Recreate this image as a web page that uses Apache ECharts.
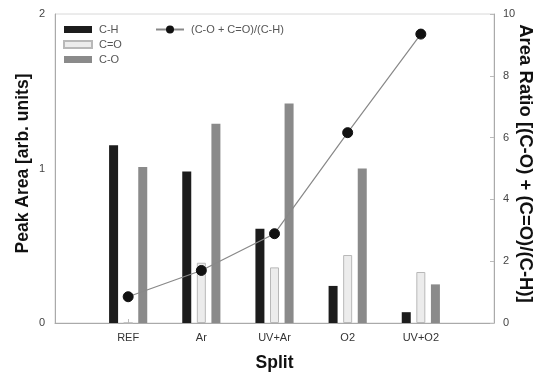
<!DOCTYPE html>
<html>
<head>
<meta charset="utf-8">
<script src="https://cdn.jsdelivr.net/npm/echarts@6/dist/echarts.min.js"></script>
<style>html,body{margin:0;padding:0;background:#fff}#c{width:546px;height:377px}</style>
</head>
<body>
<div id="c"></div>
<script>
var categories = ['REF', 'Ar', 'UV+Ar', 'O2', 'UV+O2'];
var cH = [1.15, 0.98, 0.61, 0.24, 0.07];
var cEqO = [0, 0.39, 0.36, 0.44, 0.33];
var cO = [1.01, 1.29, 1.42, 1.00, 0.25];
var ratio = [0.85, 1.70, 2.89, 6.16, 9.35];
var leftTicks = [0, 1, 2];
var rightTicks = [0, 2, 4, 6, 8, 10];

function pad(a) { return [null].concat(a, [null]); }
var xCats = [''].concat(categories, ['']);

var font = 'Liberation Sans, Arial, sans-serif';
var chart = echarts.init(document.getElementById('c'), null, {renderer: 'canvas'});
chart.setOption({
  animation: false,
  backgroundColor: '#fff',
  textStyle: {fontFamily: font},
  grid: {left: 55, right: 52, top: 14, bottom: 54, show: true, borderColor: '#d8d8d8', borderWidth: 1,
    containLabel: false, outerBoundsMode: 'none'},
  legend: [
    {
      data: [{name: 'C-H', icon: 'rect'}, {name: 'C=O', icon: 'rect'}, {name: 'C-O', icon: 'rect'}],
      orient: 'vertical', left: 63, top: 24, padding: 0,
      itemWidth: 28, itemHeight: 7, itemGap: 4,
      textStyle: {fontSize: 11, color: '#555', fontFamily: font, padding: [0, 0, 0, 2]}
    },
    {
      data: ['(C-O + C=O)/(C-H)'], left: 155, top: 24, padding: 0,
      itemWidth: 28, itemHeight: 10,
      textStyle: {fontSize: 11, color: '#555', fontFamily: font, padding: [0, 0, 0, 2]}
    }
  ],
  xAxis: {
    type: 'category', data: xCats, boundaryGap: false,
    name: 'Split', nameLocation: 'middle', nameGap: 31, nameMoveOverlap: false,
    nameTextStyle: {fontSize: 17.5, fontWeight: 'bold', color: '#111', fontFamily: font},
    axisLine: {lineStyle: {color: '#aaa'}},
    axisTick: {show: true, inside: true, length: 4, lineStyle: {color: '#bbb'},
      interval: function (i) { return i > 0 && i < xCats.length - 1; }},
    axisLabel: {fontSize: 11, color: '#333', margin: 9, interval: 0},
    splitLine: {show: false}
  },
  yAxis: [
    {
      type: 'value', min: 0, max: 2, interval: 1,
      name: 'Peak Area [arb. units]', nameLocation: 'middle', nameGap: 23, nameMoveOverlap: false,
      nameTextStyle: {fontSize: 17.5, fontWeight: 'bold', color: '#111', fontFamily: font, padding: [0, 0, 0, 10]},
      axisLine: {show: true, lineStyle: {color: '#aaa'}},
      axisTick: {show: false},
      axisLabel: {fontSize: 11, color: '#444', margin: 10,
        formatter: function (v) { return leftTicks.indexOf(v) >= 0 ? String(v) : ''; }},
      splitLine: {show: false}
    },
    {
      type: 'value', min: 0, max: 10, interval: 2, position: 'right',
      name: 'Area Ratio [(C-O) + (C=O)/(C-H)]', nameLocation: 'middle', nameGap: 22, nameRotate: -90, nameMoveOverlap: false,
      nameTextStyle: {fontSize: 18.5, fontWeight: 'bold', color: '#111', fontFamily: font, padding: [0, 10, 0, 0]},
      axisLine: {show: true, lineStyle: {color: '#aaa'}},
      axisTick: {show: true, inside: true, length: 4, lineStyle: {color: '#bbb'}},
      axisLabel: {fontSize: 11, color: '#444', margin: 9,
        formatter: function (v) { return rightTicks.indexOf(v) >= 0 ? String(v) : ''; }},
      splitLine: {show: false}
    }
  ],
  series: [
    {name: 'C-H', type: 'bar', data: pad(cH), barWidth: 9, barGap: '62%',
      itemStyle: {color: '#1c1c1c'}},
    {name: 'C=O', type: 'bar', data: pad(cEqO), barWidth: 9, barGap: '62%',
      itemStyle: {color: '#ececec', borderColor: '#b8b8b8', borderWidth: 1}},
    {name: 'C-O', type: 'bar', data: pad(cO), barWidth: 9, barGap: '62%',
      itemStyle: {color: '#8a8a8a'}},
    {name: '(C-O + C=O)/(C-H)', type: 'line', yAxisIndex: 1, data: pad(ratio),
      symbol: 'circle', symbolSize: 10, connectNulls: false,
      lineStyle: {color: '#888', width: 1.2},
      itemStyle: {color: '#111', borderColor: '#111'}}
  ]
});
</script>
</body>
</html>
